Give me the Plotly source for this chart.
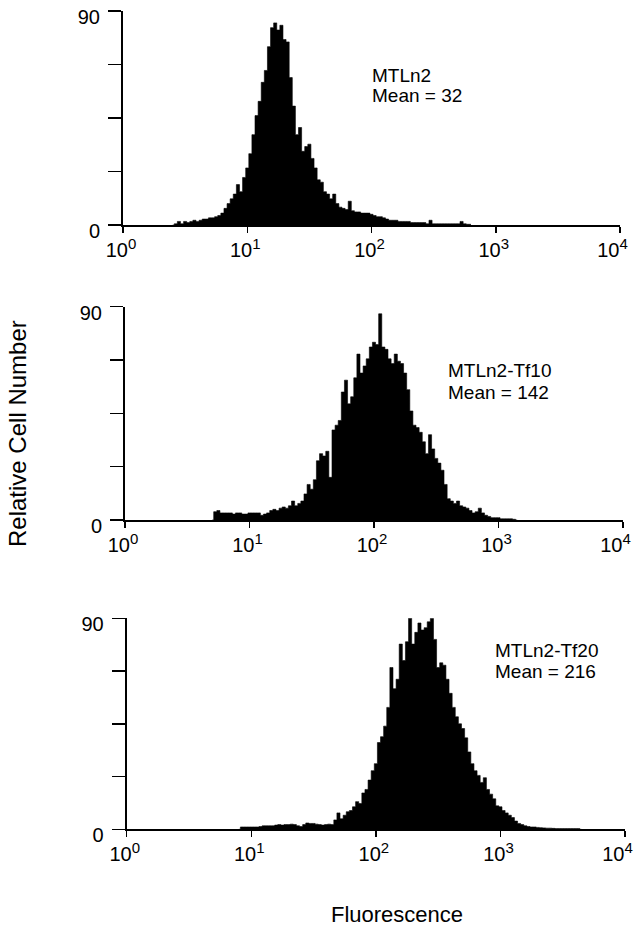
import numpy as np
import plotly.graph_objects as go

# ---- data ----
bin_width = 0.025  # channel width in decades

p1_label = ["MTLn2", "Mean = 32"]
p1_start = 0.40
p1_counts = [0, 0.5, 1.5, 0.5, 1.5, 1, 1.5, 2, 1.5, 2, 2.5, 2.5, 3, 3, 3.5, 4,
             5, 7, 9, 11, 13, 17, 14, 20, 24, 30, 38, 46, 52, 60, 65, 75,
             83, 85, 82, 84, 78, 77, 62, 50, 38, 41, 31, 33, 34, 28, 24, 19,
             18, 14, 13, 11, 13, 9, 7.5, 7, 6.5, 10, 6, 5.5, 5.5, 5, 5, 5,
             4.5, 4, 3.5, 3.5, 3, 2.5, 2, 2, 2, 1.5, 1.5, 1.5, 1.5, 1, 1, 1,
             1, 1, 0.5, 2, 0.5, 0.5, 0.5, 0.5, 0.5, 0.5, 0.5, 0.5, 0.5, 1.5, 0.5, 0.3,
             0.3]

p2_label = ["MTLn2-Tf10", "Mean = 142"]
p2_start = 0.70
p2_counts = [0, 3.5, 4, 3, 3, 3, 3, 2.5, 3, 3, 2.5, 2.5, 3, 3, 3, 3,
             2, 2.5, 3, 4, 4.5, 4, 5, 5.5, 5, 6, 8, 6, 7, 8, 11, 15,
             13, 17, 25, 28, 27, 29, 18, 38, 40, 42, 54, 59, 49, 52, 60, 70,
             62, 65, 68, 73, 75, 74, 87, 73, 72, 68, 66, 70, 67, 66, 62, 55,
             46, 40, 39, 37, 33, 28, 36, 30, 26, 24, 21, 15, 9, 8, 7, 8,
             6, 5.5, 5, 4, 3, 3.5, 5, 3, 2, 1.5, 1, 1, 1, 0.5, 0.5, 0.5,
             0.5, 0.3, 0]

p3_label = ["MTLn2-Tf20", "Mean = 216"]
p3_start = 0.90
p3_counts = [0, 1, 1, 1, 1, 1, 1, 1.2, 1.5, 1.5, 1.5, 1.5, 1.8, 2, 1.8, 2,
             2, 2.2, 2, 1.5, 1.2, 2, 2.7, 2.5, 2.5, 2.2, 2, 1.8, 2, 2.2, 2, 4,
             7, 4.5, 6, 7.5, 8, 9.6, 11.8, 11, 15.5, 17, 21, 25, 28, 37, 39.5, 44,
             52, 69, 60, 64, 79, 72, 80, 95, 79, 84, 88, 85, 86, 88.5, 90, 81,
             69, 71, 70, 64, 58, 52, 48, 45, 43, 39, 33, 28, 25, 23, 20, 22,
             17, 15, 13, 10, 9.6, 8, 7, 6, 5, 3.5, 2.5, 2, 1.5, 1.2, 1, 1,
             0.8, 0.7, 0.6, 0.5, 0.5, 0.4, 0.3, 0.3, 0.3, 0.3, 0.3, 0.3, 0.3, 0.3, 0]

x_tickvals = [1, 10, 100, 1000, 10000]
x_exponents = ["0", "1", "2", "3", "4"]
y_tickvals = [0, 90]
y_ticktext = ["0", "90"]
y_minor_tickvals = [22.5, 45, 67.5]
y_title = "Relative Cell Number"
x_title = "Fluorescence"

# ---- layout geometry (pixels) ----
W, H = 634, 930
FONT = "Liberation Sans, Arial, Helvetica, sans-serif"
x_ticktext = ['10<sup><span style="font-size:15px">%s</span></sup>' % e for e in x_exponents]
x_ticktext[-1] = x_ticktext[-1] + "\u00a0\u00a0"   # keep the last label inside the page

panels = [
    # data, start, label, x0, x1, ytop, ybottom, label x, label cap-centres
    (p1_counts, p1_start, p1_label, 123, 620, 11, 225, 370, (75, 95)),
    (p2_counts, p2_start, p2_label, 125, 623, 306.7, 520, 446, (370, 392)),
    (p3_counts, p3_start, p3_label, 126.7, 625, 618.3, 829.3, 493, (650, 671)),
]

fig = go.Figure()
annotations = []
for k, (counts, start, label, x0, x1, yt, yb, lx, lys) in enumerate(panels):
    n = k + 1
    sfx = "" if n == 1 else str(n)
    ch = start + bin_width * np.arange(len(counts))
    fig.add_trace(go.Scatter(
        x=10 ** ch, y=counts, mode="lines", line=dict(color="black", width=0.6, shape="hvh"),
        fill="tozeroy", fillcolor="black", xaxis="x" + sfx, yaxis="y" + sfx,
        showlegend=False, hoverinfo="skip"))
    fig.layout["xaxis" + sfx] = dict(
        type="log", range=[0, 4], domain=[x0 / W, x1 / W], anchor="y" + sfx,
        automargin=False, ticklabeloverflow="allow", ticklabelshift=-2,
        tickvals=x_tickvals, ticktext=x_ticktext, ticks="outside", ticklen=6,
        tickwidth=1.5, tickcolor="black", showline=True, linewidth=2, linecolor="black",
        showgrid=False, zeroline=False, tickfont=dict(family=FONT, size=20, color="black"))
    fig.layout["yaxis" + sfx] = dict(
        range=[0, 90], domain=[1 - yb / H, 1 - yt / H], anchor="x" + sfx,
        automargin=False, ticklabeloverflow="allow",
        tickvals=y_tickvals, ticktext=y_ticktext, ticks="outside", ticklen=13,
        tickwidth=1.5, tickcolor="black", showline=True, linewidth=2, linecolor="black",
        minor=dict(tickvals=y_minor_tickvals, ticks="outside", ticklen=13,
                   tickwidth=1.5, tickcolor="black", showgrid=False),
        showgrid=False, zeroline=False, ticklabelshift=6, ticklabelstandoff=4,
        tickfont=dict(family=FONT, size=20, color="black"))
    for txt, cy in zip(label, lys):
        annotations.append(dict(
            text=txt, x=lx / W, y=1 - cy / H, xref="paper", yref="paper",
            xanchor="left", yanchor="middle", showarrow=False,
            font=dict(family=FONT, size=19, color="black")))

annotations.append(dict(text=y_title, x=17 / W, y=1 - 434 / H, xref="paper", yref="paper",
                        textangle=-90, showarrow=False, xanchor="center", yanchor="middle",
                        font=dict(family=FONT, size=24, color="black")))
annotations.append(dict(text=x_title, x=397 / W, y=1 - 914 / H, xref="paper", yref="paper",
                        showarrow=False, xanchor="center", yanchor="middle",
                        font=dict(family=FONT, size=22, color="black")))

fig.update_layout(width=W, height=H, autosize=False,
                  margin=dict(l=0, r=0, t=0, b=0, pad=0),
                  paper_bgcolor="white", plot_bgcolor="white",
                  annotations=annotations)

fig.write_html("out.html", config={"displayModeBar": False, "staticPlot": True},
               post_script="document.body.style.margin='0';document.body.style.padding='0';")
